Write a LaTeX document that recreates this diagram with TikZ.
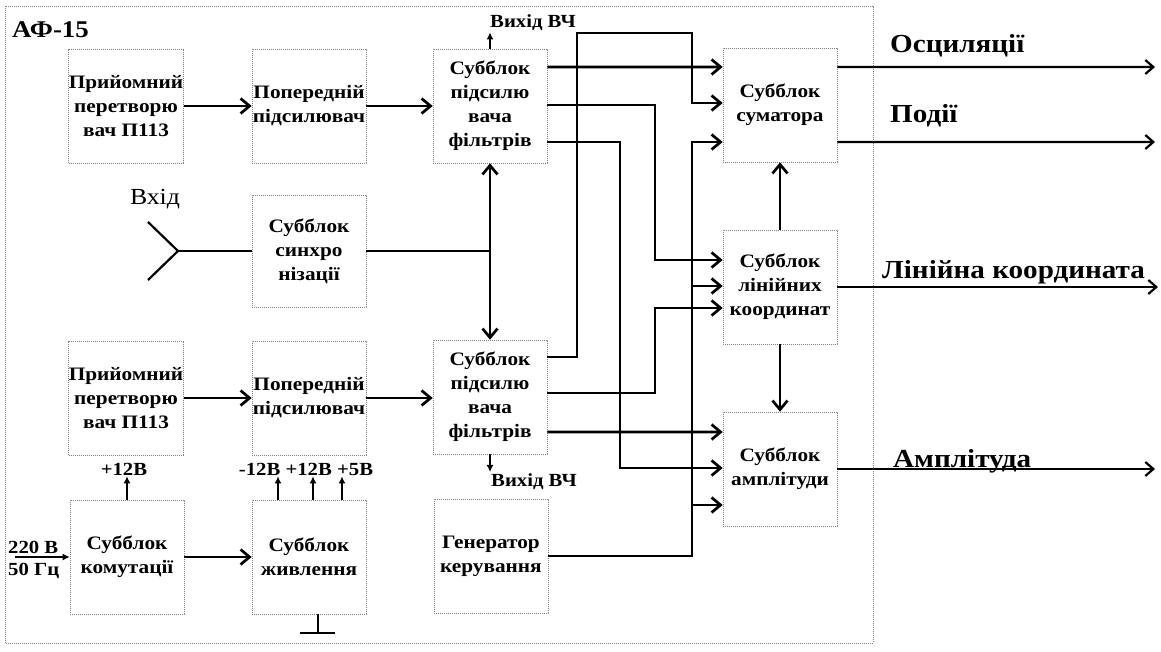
\documentclass[tikz,border=0pt]{standalone}
\usepackage{fontspec}
\setmainfont{Liberation Serif}[FakeStretch=1.12]
\usetikzlibrary{arrows.meta}

\begin{document}
\begin{tikzpicture}[
  x=1bp,y=-1bp,
  block/.style={
    rectangle,draw=black!50,line width=.6bp,dash pattern=on 1bp off 1bp,
    minimum width=114bp,minimum height=114bp,inner sep=0pt,align=center,
    font=\fontsize{19bp}{24bp}\selectfont\bfseries
  },
  frame/.style={draw=black!50,line width=.6bp,dash pattern=on 1bp off 1bp},
  wire/.style={draw=black,line width=2.7bp},
  sig/.style={wire,-{Straight Barb[length=9bp,width=15bp]}},
  both/.style={
    wire,{Straight Barb[length=9bp,width=15bp]}-{Straight Barb[length=9bp,width=15bp]}
  },
  outarrow/.style={draw=black,line width=2.2bp,-{Straight Barb[length=8bp,width=14bp]}},
  feed/.style={draw=black,line width=2.2bp,-{Latex[length=7bp,width=7bp]}},
  note/.style={font=\fontsize{18.5bp}{22bp}\selectfont\bfseries,inner sep=1bp},
  outlabel/.style={
    font=\fontsize{26bp}{30bp}\selectfont\bfseries,anchor=base west,inner sep=0pt
  },
]
  \useasboundingbox (0,0) rectangle (1161,652);
  \draw[frame] (5,6) rectangle (873,643);
  \node[font=\fontsize{24bp}{28bp}\selectfont\bfseries,anchor=base west,inner sep=0pt]
    (title) at (12,38) {АФ-15};

  % upper channel
  \node[block] (rcvA) at (126,106) {Прийомний\\перетворю\\вач П113};
  \node[block] (preA) at (309,106) {Попередній\\підсилювач};
  \node[block] (filtA) at (490,106) {Субблок\\підсилю\\вача\\фільтрів};
  % lower channel
  \node[block] (rcvB) at (126,398) {Прийомний\\перетворю\\вач П113};
  \node[block] (preB) at (309,398) {Попередній\\підсилювач};
  \node[block] (filtB) at (490,397) {Субблок\\підсилю\\вача\\фільтрів};
  % sync, power and control
  \node[block,minimum height=112bp] (sync) at (309,251) {Субблок\\синхро\\нізації};
  \node[block] (comm) at (127,557) {Субблок\\комутації};
  \node[block] (pwr) at (309,557) {Субблок\\живлення};
  \node[block] (gen) at (491,556) {Генератор\\керування};
  % processing
  \node[block] (sum) at (780,105) {Субблок\\суматора};
  \node[block] (lin) at (780,287) {Субблок\\лінійних\\координат};
  \node[block] (amp) at (780,469) {Субблок\\амплітуди};

  % ports of the filter blocks and of the processing blocks
  \foreach \p/\b/\d in {fa1/filtA/39,fa2/filtA/1,fa3/filtA/-36,
                        fb1/filtB/40,fb2/filtB/4,fb3/filtB/-35}
    {\coordinate (\p) at ([yshift=\d bp]\b.east);}
  \foreach \p/\b/\d in {sum1/sum/38,sum2/sum/2,sum3/sum/-37,
                        lin1/lin/27,lin2/lin/1,lin3/lin/-21,
                        amp1/amp/37,amp2/amp/1,amp3/amp/-36}
    {\coordinate (\p) at ([yshift=\d bp]\b.west);}
  \coordinate (colA) at (577,0);
  \coordinate (colB) at (620,0);
  \coordinate (colC) at (655,0);
  \coordinate (colD) at (692,0);
  \coordinate (rail) at (0,33);

  \draw[sig] (rcvA) -- (preA);
  \draw[sig] (preA) -- (filtA);
  \draw[sig] (rcvB) -- (preB);
  \draw[sig] (preB.east) -- (filtB.west |- preB.east);
  \draw[sig] (comm) -- (pwr);

  % input
  \node[font=\fontsize{23bp}{26bp}\selectfont,anchor=base,inner sep=0pt]
    (vhid) at (155,205) {Вхід};
  \coordinate (vin) at (178,251);
  \draw[wire,line width=2.2bp] (148,222) -- (vin) -- (148,280);
  \draw[wire,line width=2.2bp] (vin) -- (sync.west);
  \draw[wire,line width=2.2bp] (sync.east) -- (filtA.south |- sync.east);
  \draw[both] (filtA.south) -- (filtB.north);

  % HF outputs
  \node[note,anchor=base west] (vchA) at (489,28) {Вихід ВЧ};
  \node[note,anchor=base west] (vchB) at (490,486) {Вихід ВЧ};
  \draw[feed] (filtA.north) -- (filtA.north |- vchA.south);
  \draw[feed] (filtB.south) -- (filtB.south |- vchB.north);

  % supply
  \node[note,anchor=base] (p12) at (124,475) {+12В};
  \node[note,anchor=base] (volt) at (306,475) {-12В +12В +5В};
  \draw[feed] (comm.north) -- (comm.north |- p12.south);
  \foreach \s in {-31,4,33}
    {\draw[feed] ([xshift=\s bp]pwr.north) -- ([xshift=\s bp]pwr.north |- volt.south);}
  \node[note,anchor=base west,inner sep=0pt] (mainsV) at (8,553) {220 В};
  \node[note,anchor=base west,inner sep=0pt] (mainsF) at (8,575) {50 Гц};
  \coordinate (mains) at (15,557);
  \draw[feed] (mains) -- (comm.west);
  \coordinate (gnd) at ([xshift=9bp,yshift=-19bp]pwr.south);
  \draw[wire,line width=2.2bp] (pwr.south -| gnd) -- (gnd);
  \draw[wire,line width=2.2bp] (gnd) +(-18,0) -- +(17,0);

  % signal routing to the processing blocks
  \draw[sig] (fa1) -- (sum1);
  \draw[sig] (fa2) -| (colC |- lin1) -- (lin1);
  \draw[sig] (fa3) -| (colB |- amp2) -- (amp2);
  \draw[sig] (fb1) -| (colA |- rail) -| (colD |- sum2) -- (sum2);
  \draw[sig] (fb2) -| (colC |- lin3) -- (lin3);
  \draw[sig] (fb3) -- (amp1);
  \draw[sig] (gen.east) -| (colD |- sum3) -- (sum3);
  \draw[sig] (colD |- lin2) -- (lin2);
  \draw[sig] (colD |- amp3) -- (amp3);
  \draw[sig] (lin.north) -- (sum.south);
  \draw[sig] (lin.south) -- (amp.north);

  % outputs
  \coordinate (oOsc) at (1155,67);
  \coordinate (oPod) at (1155,142);
  \coordinate (oLin) at (1158,287);
  \coordinate (oAmp) at (1155,469);
  \draw[outarrow] (sum.east |- sum1) -- (oOsc);
  \draw[outarrow] (sum.east |- sum3) -- (oPod);
  \draw[outarrow] (lin.east) -- (oLin);
  \draw[outarrow] (amp.east) -- (oAmp);
  \node[outlabel] (lOsc) at (890,53) {Осциляції};
  \node[outlabel] (lPod) at (890,123) {Події};
  \node[outlabel] (lLin) at (882,278) {Лінійна координата};
  \node[outlabel] (lAmp) at (893,467) {Амплітуда};
\end{tikzpicture}
\end{document}
